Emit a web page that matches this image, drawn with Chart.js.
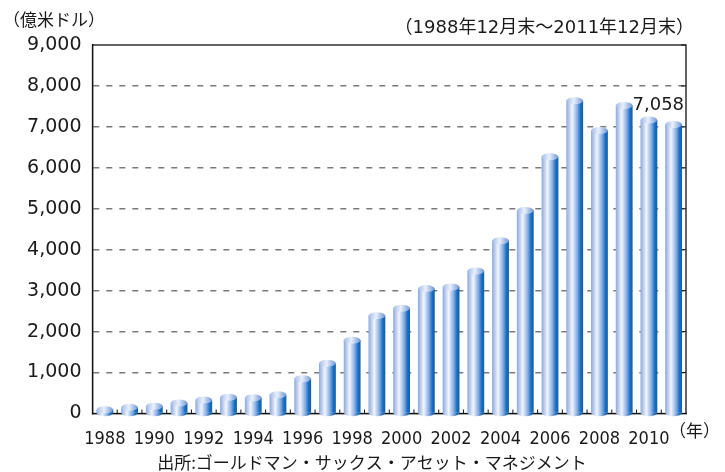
<!DOCTYPE html>
<html>
<head>
<meta charset="utf-8">
<script src="https://cdn.jsdelivr.net/npm/chart.js@4"></script>
<style>
  body { margin: 0; background: #fff; }
  #wrap { width: 725px; height: 472px; }
</style>
</head>
<body>
<div id="wrap"><canvas id="fundChart" width="725" height="472"></canvas></div>
<script>
const years = ["1988", "1989", "1990", "1991", "1992", "1993", "1994", "1995", "1996", "1997", "1998", "1999",
  "2000", "2001", "2002", "2003", "2004", "2005", "2006", "2007", "2008", "2009", "2010", "2011"];
const assets = [90, 150, 175, 255, 330, 395, 385, 460, 850, 1230, 1790, 2390,
  2570, 3050, 3090, 3480, 4220, 4960, 6270, 7640, 6910, 7520, 7170, 7058];
const yearTicks = ["1988", "1990", "1992", "1994", "1996", "1998", "2000", "2002", "2004", "2006", "2008", "2010"];
const yTicks = [0, 1000, 2000, 3000, 4000, 5000, 6000, 7000, 8000, 9000];

const unitText = "（億米ドル）";
const periodText = "（1988年12月末～2011年12月末）";
const yearUnitText = "（年）";
const sourceText = "出所:ゴールドマン・サックス・アセット・マネジメント";
const lastLabel = "7,058";

const BAR_PCT = 0.68;
const CAP_RY = 3.5;

function bodyGradient(ctx, left, right) {
  const g = ctx.createLinearGradient(left, 0, right, 0);
  g.addColorStop(0, "#8aa7de");
  g.addColorStop(0.35, "#f2f6fd");
  g.addColorStop(0.65, "#88ace0");
  g.addColorStop(0.85, "#1c6dbf");
  g.addColorStop(1, "#0562b5");
  return g;
}

function capGradient(ctx, left, right) {
  const g = ctx.createLinearGradient(left, 0, right, 0);
  g.addColorStop(0, "#a2bae8");
  g.addColorStop(0.45, "#e9f0fb");
  g.addColorStop(1, "#6f97d6");
  return g;
}

// cylinder caps, box, inner ticks and the extra texts
const cylinderPlugin = {
  id: "cylinder",
  beforeDatasetsDraw(chart) {
    const ctx = chart.ctx;
    const area = chart.chartArea;
    const xs = chart.scales.x;
    const ys = chart.scales.y;
    ctx.save();
    ctx.strokeStyle = "#111";
    ctx.lineWidth = 1.3;
    ctx.strokeRect(area.left, area.top, area.right - area.left, area.bottom - area.top);
    ctx.beginPath();
    const step = xs.width / years.length;
    for (let i = 1; i < years.length; i++) {
      const x = xs.left + i * step;
      ctx.moveTo(x, area.bottom);
      ctx.lineTo(x, area.bottom - 4);
    }
    yTicks.forEach((v) => {
      const y = ys.getPixelForValue(v);
      ctx.moveTo(area.right, y);
      ctx.lineTo(area.right - 5, y);
    });
    ctx.lineWidth = 1;
    ctx.stroke();
    ctx.restore();
  },
  afterDatasetsDraw(chart) {
    const ctx = chart.ctx;
    const meta = chart.getDatasetMeta(0);
    ctx.save();
    meta.data.forEach((bar) => {
      const left = bar.x - bar.width / 2;
      const right = bar.x + bar.width / 2;
      // rounded bottom
      ctx.beginPath();
      ctx.ellipse(bar.x, bar.base, bar.width / 2, CAP_RY, 0, 0, Math.PI);
      ctx.fillStyle = bodyGradient(ctx, left, right);
      ctx.fill();
      // top cap
      ctx.beginPath();
      ctx.ellipse(bar.x, bar.y, bar.width / 2, CAP_RY, 0, 0, Math.PI * 2);
      ctx.fillStyle = capGradient(ctx, left, right);
      ctx.fill();
    });

    const last = meta.data[meta.data.length - 1];
    ctx.fillStyle = "#1a1a1a";
    ctx.font = "18px 'DejaVu Sans', 'Noto Sans CJK JP'";
    ctx.textAlign = "right";
    ctx.textBaseline = "alphabetic";
    ctx.fillText(lastLabel, last.x + last.width / 2 + 2, last.y - 15);
    ctx.restore();
  },
  afterDraw(chart) {
    const ctx = chart.ctx;
    ctx.save();
    ctx.fillStyle = "#1a1a1a";
    ctx.textBaseline = "middle";
    ctx.font = "17px 'Noto Sans CJK JP'";
    ctx.textAlign = "left";
    ctx.fillText(unitText, 3, 20);
    ctx.font = "18px 'DejaVu Sans', 'Noto Sans CJK JP'";
    ctx.textAlign = "right";
    ctx.fillText(periodText, 694, 28);
    ctx.font = "17px 'Noto Sans CJK JP'";
    ctx.fillText(yearUnitText, 720, 431);
    ctx.textAlign = "center";
    ctx.fillText(sourceText, 372, 463);
    ctx.restore();
  },
};

const chartCtx = document.getElementById("fundChart");

const myChart = new Chart(chartCtx, {
  type: "bar",
  data: {
    labels: years,
    datasets: [
      {
        label: "億米ドル",
        data: assets,
        backgroundColor: (c) => {
          const xs = c.chart.scales.x;
          if (!xs || !xs.width) {
            return "#8aaee0";
          }
          const center = xs.getPixelForValue(c.dataIndex);
          const half = (xs.width / years.length) * BAR_PCT / 2;
          return bodyGradient(c.chart.ctx, center - half, center + half);
        },
        borderWidth: 0,
        categoryPercentage: 1,
        barPercentage: BAR_PCT,
      },
    ],
  },
  options: {
    responsive: false,
    animation: false,
    layout: {
      padding: { top: 45, right: 39, bottom: 0, left: 0 },
    },
    scales: {
      x: {
        afterFit: (scale) => {
          scale.height = 58.5;
        },
        grid: { display: false },
        border: { display: true, color: "#111", width: 1.3 },
        ticks: {
          autoSkip: false,
          maxRotation: 0,
          padding: 7,
          color: "#1a1a1a",
          font: { family: "'DejaVu Sans Condensed', 'DejaVu Sans'", size: 18 },
          callback: function (value, index) {
            const label = years[index];
            return yearTicks.includes(label) ? label : "";
          },
        },
      },
      y: {
        min: 0,
        max: 9000,
        afterFit: (scale) => {
          scale.width = 92.5;
        },
        afterBuildTicks: (scale) => {
          scale.ticks = yTicks.map((v) => ({ value: v }));
        },
        grid: {
          drawTicks: false,
          lineWidth: 1.6,
          color: (c) => {
            if (c.tick && (c.tick.value === 0 || c.tick.value === 9000)) {
              return "rgba(0,0,0,0)";
            }
            return "#7a7a7a";
          },
        },
        border: { display: true, color: "#111", width: 1.3, dash: [6, 7] },
        ticks: {
          padding: 11,
          color: "#1a1a1a",
          font: { family: "'DejaVu Sans'", size: 19 },
          callback: (value) => value.toLocaleString("en-US"),
        },
      },
    },
    plugins: {
      legend: { display: false },
      tooltip: { enabled: false },
    },
  },
  plugins: [cylinderPlugin],
});
</script>
</body>
</html>
